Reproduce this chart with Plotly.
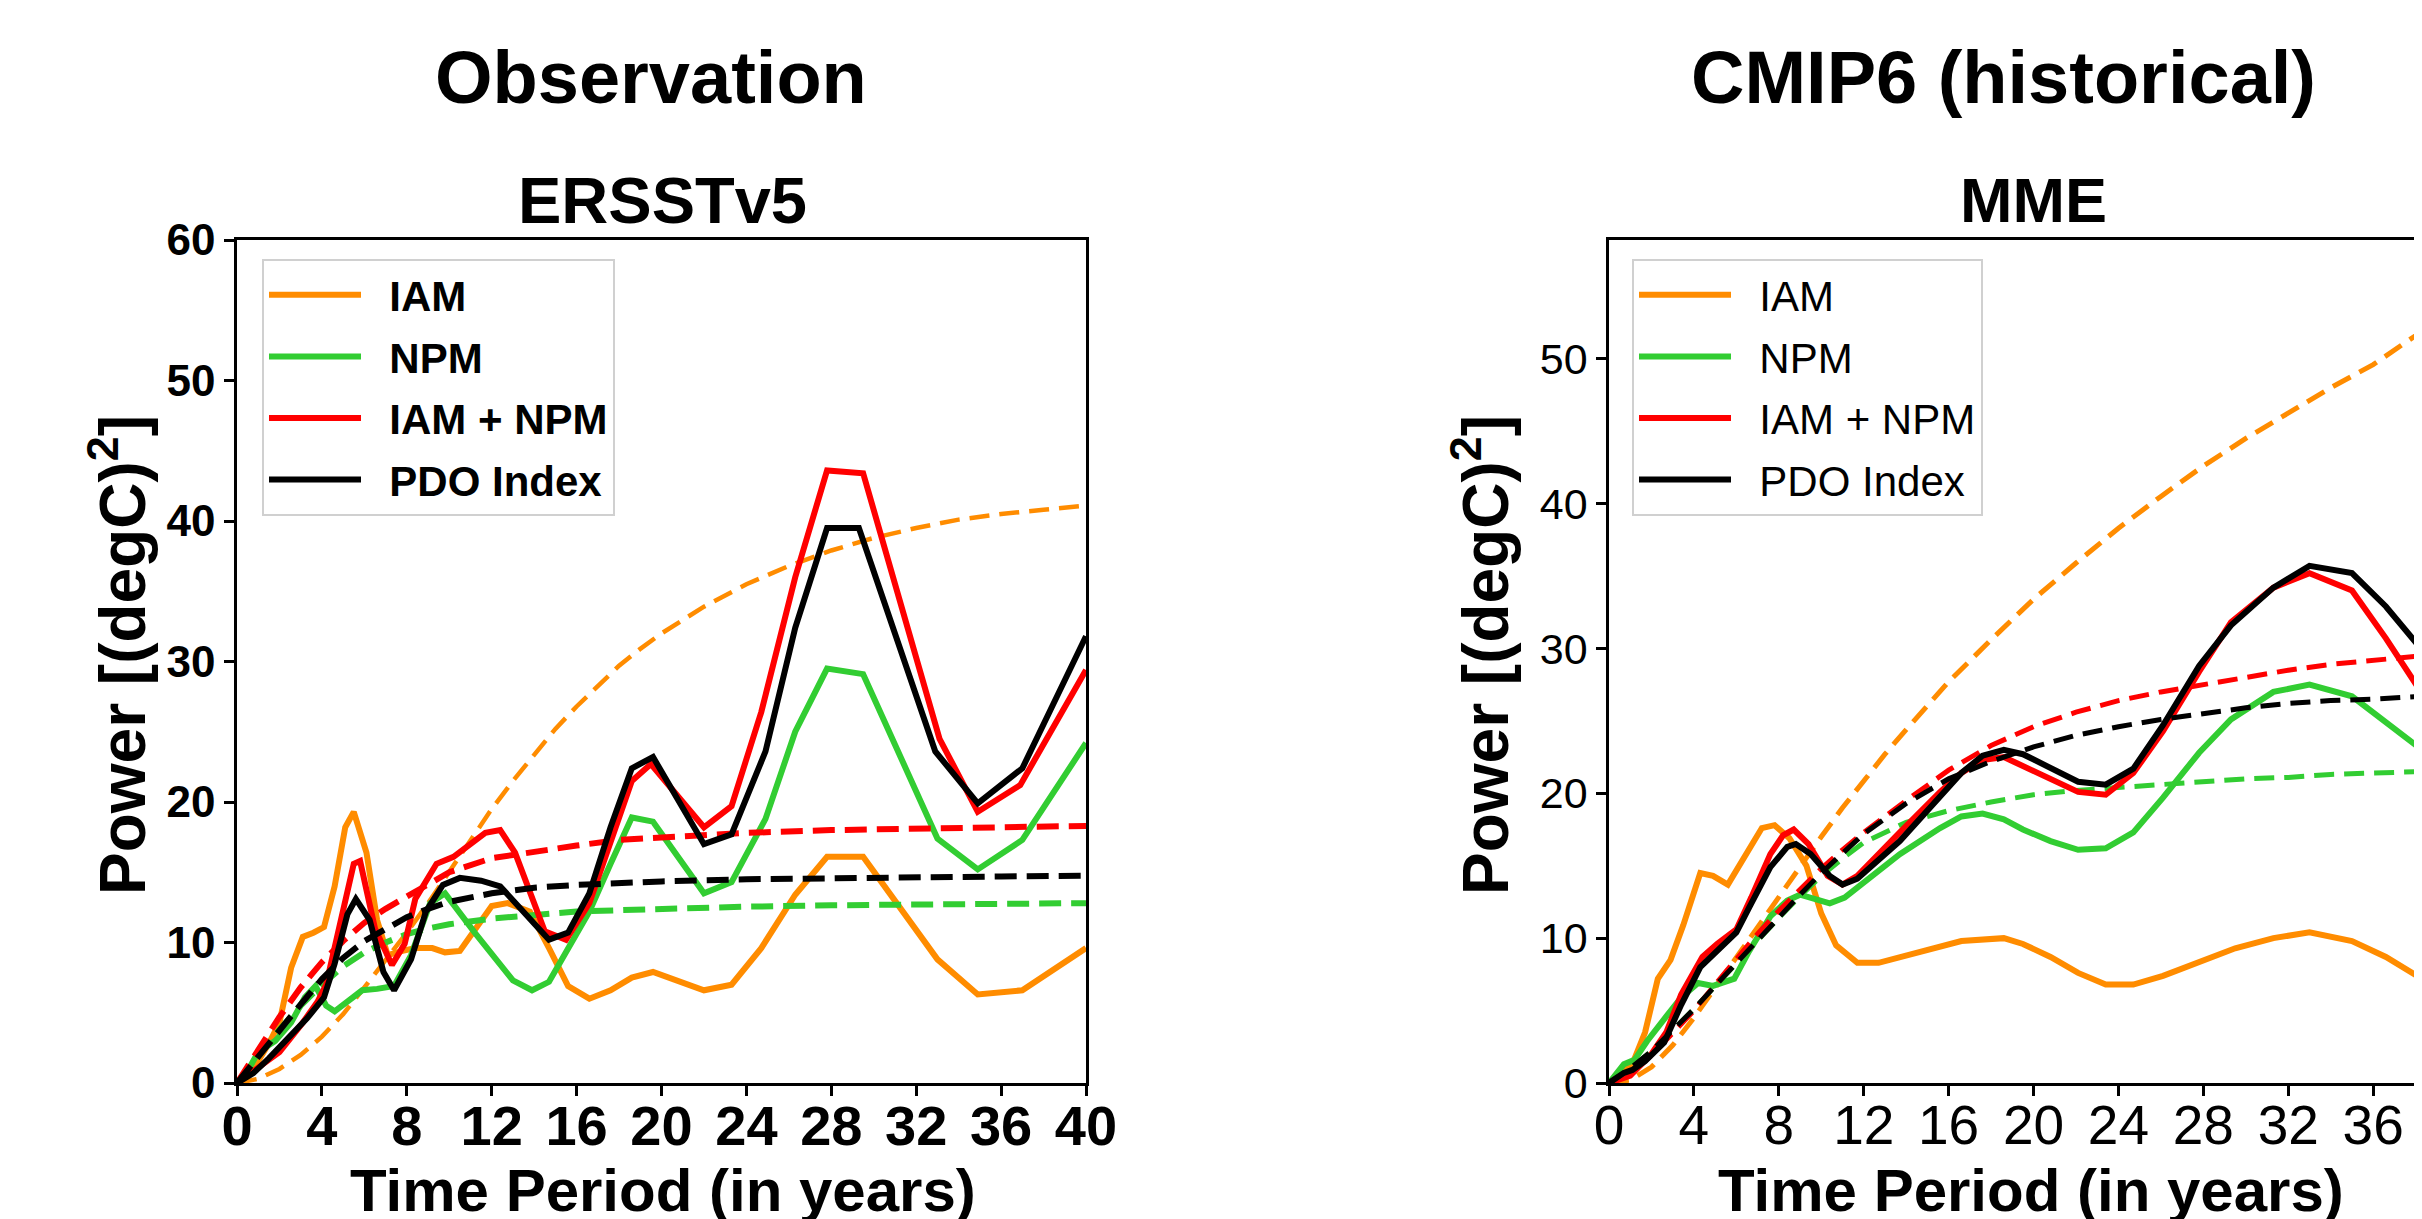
import plotly.graph_objects as go

# page body margin of the browser (8 px) is compensated in the layout helpers below
OFF = 8
W, H = 2422 - OFF, 1219 - OFF

# ---------------- Observation / ERSSTv5 (left panel) ----------------
obs_iam_x = [0, 0.77, 1.5, 2.0, 2.55, 3.1, 3.6, 4.1, 4.6, 5.1, 5.5, 6.1, 6.6, 7.1, 7.8, 8.4, 9.2, 9.8, 10.5, 11.2, 12.0, 12.75, 13.8, 14.7, 15.6, 16.6, 17.6, 18.6, 19.6, 22.0, 23.3, 24.7, 26.3, 27.8, 29.5, 33.0, 34.9, 37.0, 40]
obs_iam_y = [0, 1.0, 2.8, 4.3, 8.2, 10.4, 10.7, 11.1, 14.0, 18.2, 19.3, 16.4, 11.6, 9.1, 9.4, 9.6, 9.6, 9.3, 9.4, 10.9, 12.6, 12.8, 12.2, 9.6, 6.9, 6.0, 6.6, 7.5, 7.9, 6.6, 7.0, 9.6, 13.4, 16.1, 16.1, 8.8, 6.3, 6.6, 9.6]

obs_npm_x = [0, 0.5, 1.0, 1.8, 2.55, 3.2, 3.7, 4.2, 4.6, 5.2, 5.9, 6.6, 7.4, 8.2, 9.1, 9.8, 11.2, 13.0, 13.9, 14.7, 15.6, 16.6, 17.6, 18.6, 19.6, 22.0, 23.3, 24.9, 26.3, 27.8, 29.5, 33.0, 34.9, 37.0, 40]
obs_npm_y = [0, 0.85, 2.2, 3.0, 4.3, 6.1, 6.9, 5.5, 5.1, 5.8, 6.6, 6.7, 6.9, 9.1, 12.8, 13.5, 10.7, 7.3, 6.6, 7.2, 9.5, 12.2, 15.6, 18.9, 18.6, 13.5, 14.3, 18.8, 25.0, 29.5, 29.1, 17.4, 15.2, 17.3, 24.2]

obs_sum_x = [0, 1.3, 2.0, 3.1, 3.8, 4.2, 4.8, 5.5, 5.8, 6.5, 7.3, 7.9, 8.4, 9.4, 10.2, 11.7, 12.4, 13.1, 14.5, 15.5, 16.6, 18.6, 19.5, 22.0, 23.3, 24.7, 26.3, 27.8, 29.5, 33.1, 34.9, 36.9, 40]
obs_sum_y = [0, 1.4, 2.2, 4.3, 5.8, 7.0, 11.0, 15.6, 15.8, 11.0, 8.4, 9.9, 13.1, 15.6, 16.1, 17.8, 18.0, 16.4, 10.8, 10.2, 12.8, 21.5, 22.7, 18.2, 19.7, 26.4, 36.0, 43.6, 43.4, 24.5, 19.3, 21.2, 29.4]

obs_pdo_x = [0, 0.77, 1.5, 2.55, 3.3, 4.1, 4.6, 5.2, 5.6, 6.25, 6.9, 7.4, 8.2, 8.9, 9.7, 10.5, 11.5, 12.4, 13.8, 14.7, 15.6, 16.6, 17.6, 18.6, 19.6, 22.0, 23.3, 24.9, 26.3, 27.8, 29.3, 32.9, 34.9, 37.0, 40]
obs_pdo_y = [0, 0.7, 1.75, 3.4, 4.6, 6.1, 8.5, 12.0, 13.1, 11.6, 7.9, 6.6, 8.8, 12.2, 14.1, 14.6, 14.4, 14.0, 11.7, 10.2, 10.7, 13.5, 18.2, 22.4, 23.2, 17.0, 17.7, 23.6, 32.4, 39.5, 39.5, 23.6, 19.9, 22.4, 31.8]

obs_iam_fit_x = [0, 1, 2, 3, 4, 5, 6, 7, 8, 9, 10, 11, 12, 13, 14, 15, 16, 17, 18, 19, 20, 22, 24, 26, 28, 30, 32, 34, 36, 38, 40]
obs_iam_fit_y = [0, 0.3, 1.0, 2.0, 3.3, 4.9, 6.8, 8.7, 10.7, 12.8, 15.0, 17.2, 19.5, 21.5, 23.4, 25.2, 26.8, 28.3, 29.7, 30.9, 32.0, 33.9, 35.5, 36.8, 37.9, 38.8, 39.5, 40.1, 40.5, 40.8, 41.1]

obs_fit_x = [0, 1, 2, 3, 4, 5, 6, 7, 8, 9, 10, 12, 14, 16, 18, 20, 24, 28, 32, 36, 40]
obs_npm_fit_y = [0, 1.9, 3.8, 5.5, 7.0, 8.3, 9.3, 10.0, 10.6, 11.0, 11.3, 11.7, 12.0, 12.2, 12.3, 12.4, 12.55, 12.65, 12.7, 12.75, 12.8]
obs_sum_fit_y = [0, 2.4, 4.7, 6.8, 8.6, 10.1, 11.4, 12.4, 13.3, 14.1, 15.0, 16.0, 16.5, 16.9, 17.3, 17.5, 17.8, 18.0, 18.1, 18.2, 18.3]
obs_pdo_fit_y = [0, 1.9, 3.8, 5.6, 7.4, 8.9, 10.1, 11.0, 11.8, 12.4, 12.9, 13.5, 13.9, 14.1, 14.25, 14.35, 14.5, 14.6, 14.65, 14.7, 14.75]

# ---------------- CMIP6 (historical) / MME (right panel) ----------------
mme_iam_x = [0, 1.1, 1.7, 2.3, 2.9, 3.5, 4.3, 4.9, 5.6, 6.5, 7.2, 7.8, 8.5, 9.3, 10.0, 10.7, 11.7, 12.7, 14.7, 16.6, 18.6, 19.5, 20.8, 22.1, 23.4, 24.7, 26.1, 27.8, 29.5, 31.3, 33.0, 35.0, 36.6, 38.3]
mme_iam_y = [0, 1.3, 3.5, 7.2, 8.5, 10.9, 14.5, 14.3, 13.7, 15.8, 17.6, 17.8, 16.9, 15.0, 11.7, 9.5, 8.3, 8.3, 9.1, 9.8, 10.0, 9.6, 8.7, 7.6, 6.8, 6.8, 7.4, 8.3, 9.3, 10.0, 10.4, 9.8, 8.7, 7.2]

mme_npm_x = [0, 0.7, 1.2, 1.8, 2.7, 3.4, 4.2, 4.9, 5.9, 6.6, 7.6, 8.4, 9.0, 9.8, 10.4, 11.1, 12.2, 13.7, 15.6, 16.6, 17.6, 18.6, 19.5, 20.8, 22.1, 23.4, 24.7, 26.1, 27.8, 29.3, 31.3, 33.0, 35.0, 36.6, 38.3]
mme_npm_y = [0, 1.3, 1.6, 2.9, 4.6, 5.9, 6.9, 6.7, 7.2, 9.1, 11.5, 12.6, 13.0, 12.6, 12.4, 12.8, 14.1, 15.8, 17.6, 18.4, 18.6, 18.2, 17.5, 16.7, 16.1, 16.2, 17.3, 19.7, 22.8, 25.1, 27.0, 27.5, 26.7, 24.9, 23.0]

mme_sum_x = [0, 1.0, 2.0, 2.7, 3.4, 4.4, 5.1, 6.0, 6.7, 7.6, 8.2, 8.7, 9.4, 10.3, 11.0, 11.7, 13.7, 15.6, 16.6, 17.6, 18.6, 19.5, 20.8, 22.1, 23.4, 24.7, 26.1, 27.8, 29.3, 31.3, 33.0, 35.0, 36.6, 38.3]
mme_sum_y = [0, 0.5, 2.0, 3.5, 6.1, 8.7, 9.6, 10.6, 12.8, 15.8, 17.1, 17.5, 16.5, 14.3, 13.7, 14.3, 17.3, 20.1, 21.4, 22.3, 22.5, 21.9, 21.0, 20.1, 19.9, 21.4, 24.3, 28.4, 31.8, 34.2, 35.2, 34.0, 30.7, 26.9]

mme_pdo_x = [0, 0.7, 1.1, 1.7, 2.6, 3.4, 4.3, 5.1, 6.0, 6.6, 7.6, 8.4, 8.8, 9.5, 10.4, 11.0, 11.7, 13.7, 15.6, 16.6, 17.6, 18.6, 19.5, 20.8, 22.1, 23.4, 24.7, 26.1, 27.8, 29.3, 31.3, 33.0, 35.0, 36.6, 38.3]
mme_pdo_y = [0, 0.7, 0.9, 1.5, 2.8, 5.4, 8.0, 9.1, 10.4, 12.1, 14.9, 16.3, 16.5, 15.8, 14.3, 13.7, 14.1, 16.7, 19.7, 21.4, 22.6, 23.0, 22.7, 21.7, 20.8, 20.6, 21.7, 24.7, 28.8, 31.6, 34.2, 35.7, 35.2, 32.9, 29.9]

mme_iam_fit_x = [0, 1, 2, 3, 4, 5, 6, 7, 8, 9, 10, 11, 12, 13, 14, 16, 18, 20, 22, 24, 26, 28, 30, 32, 34, 36, 38.3]
mme_iam_fit_y = [0, 0.2, 1.1, 2.6, 4.5, 6.6, 8.7, 10.8, 12.9, 15.0, 17.0, 19.0, 20.9, 22.7, 24.4, 27.7, 30.6, 33.4, 35.9, 38.3, 40.5, 42.6, 44.5, 46.3, 48.0, 49.6, 51.9]

mme_fit_x = [0, 1, 2, 3, 4, 5, 6, 7, 8, 9, 10, 11, 12, 14, 16, 18, 20, 22, 24, 26, 28, 30, 32, 34, 36, 38.3]
mme_npm_fit_y = [0, 1.0, 2.2, 3.6, 5.1, 6.7, 8.3, 9.9, 11.4, 12.9, 14.3, 15.5, 16.6, 18.0, 18.8, 19.4, 19.9, 20.2, 20.4, 20.6, 20.8, 21.0, 21.1, 21.3, 21.4, 21.5]
mme_sum_fit_y = [0, 0.8, 1.9, 3.4, 5.0, 6.8, 8.6, 10.3, 11.9, 13.4, 14.8, 16.1, 17.3, 19.5, 21.6, 23.3, 24.6, 25.6, 26.4, 27.0, 27.5, 28.0, 28.5, 28.9, 29.2, 29.5]
mme_pdo_fit_y = [0, 1.0, 2.2, 3.6, 5.1, 6.7, 8.3, 9.9, 11.5, 13.0, 14.5, 15.9, 17.2, 19.3, 21.0, 22.2, 23.2, 24.0, 24.6, 25.1, 25.5, 25.9, 26.2, 26.4, 26.5, 26.7]

series_names = ["IAM", "NPM", "IAM + NPM", "PDO Index"]
series_colors = ["#FF8C00", "#32CD32", "#FF0000", "#000000"]

x_ticks_left = [0, 4, 8, 12, 16, 20, 24, 28, 32, 36, 40]
x_ticks_right = [0, 4, 8, 12, 16, 20, 24, 28, 32, 36]
y_ticks_left = [0, 10, 20, 30, 40, 50, 60]
y_ticks_right = [0, 10, 20, 30, 40, 50]

FONT = "Liberation Sans"
GAP = "\u00a0\u00a0"  # spacing between legend line sample and label


def px_x(p):
    return (p - OFF) / W


def px_y(p):
    return 1 - (p - OFF) / H


fig = go.Figure()

left_solid = [(obs_iam_x, obs_iam_y), (obs_npm_x, obs_npm_y), (obs_sum_x, obs_sum_y), (obs_pdo_x, obs_pdo_y)]
left_fit = [(obs_iam_fit_x, obs_iam_fit_y), (obs_fit_x, obs_npm_fit_y), (obs_fit_x, obs_sum_fit_y), (obs_fit_x, obs_pdo_fit_y)]
right_solid = [(mme_iam_x, mme_iam_y), (mme_npm_x, mme_npm_y), (mme_sum_x, mme_sum_y), (mme_pdo_x, mme_pdo_y)]
right_fit = [(mme_iam_fit_x, mme_iam_fit_y), (mme_fit_x, mme_npm_fit_y), (mme_fit_x, mme_sum_fit_y), (mme_fit_x, mme_pdo_fit_y)]

for i, name in enumerate(series_names):
    c = series_colors[i]
    sx, sy = left_solid[i]
    fig.add_trace(go.Scatter(x=sx, y=sy, mode="lines", name=GAP + name, line=dict(color=c, width=6),
                             xaxis="x", yaxis="y", legend="legend", legendgroup="L" + name))
    fx, fy = left_fit[i]
    fig.add_trace(go.Scatter(x=fx, y=fy, mode="lines", name=name + " fit", showlegend=False,
                             line=dict(color=c, width=4.5 if i == 0 else 6,
                                       dash="20px,10px" if i == 0 else "22px,10px"),
                             xaxis="x", yaxis="y"))
for i, name in enumerate(series_names):
    c = series_colors[i]
    sx, sy = right_solid[i]
    fig.add_trace(go.Scatter(x=sx, y=sy, mode="lines", name=GAP + name, line=dict(color=c, width=6),
                             xaxis="x2", yaxis="y2", legend="legend2", legendgroup="R" + name))
    fx, fy = right_fit[i]
    fig.add_trace(go.Scatter(x=fx, y=fy, mode="lines", name=name + " fit", showlegend=False,
                             line=dict(color=c, width=5, dash="20px,10px"),
                             xaxis="x2", yaxis="y2"))

ydom = [px_y(1083), px_y(240)]
axis_common = dict(showline=True, linecolor="black", linewidth=2.5, ticks="outside", ticklen=10,
                   tickwidth=2.5, tickcolor="black", showgrid=False, zeroline=False, automargin=False)

fig.update_layout(
    width=W, height=H,
    margin=dict(l=0, r=0, t=0, b=0, autoexpand=False),
    paper_bgcolor="white", plot_bgcolor="white",
    showlegend=True,
    xaxis=dict(domain=[px_x(237), px_x(1086)], range=[0, 40], tickvals=x_ticks_left, mirror=True,
               ticklabelstandoff=-18,
               tickfont=dict(family=FONT, size=56, weight="bold", color="black"), anchor="y", **axis_common),
    yaxis=dict(domain=ydom, range=[0, 60], tickvals=y_ticks_left, mirror=True,
               tickfont=dict(family=FONT, size=44, weight="bold", color="black"), anchor="x", **axis_common),
    xaxis2=dict(domain=[px_x(1609), 1.0], range=[0, 38.3], tickvals=x_ticks_right, mirror=True,
                ticklabelstandoff=-18,
                tickfont=dict(family=FONT, size=55, color="black"), anchor="y2", **axis_common),
    yaxis2=dict(domain=ydom, range=[0, 58.2], tickvals=y_ticks_right, mirror=False,
                tickfont=dict(family=FONT, size=43, color="black"), anchor="x2", **axis_common),
    legend=dict(x=px_x(262), y=px_y(259), xanchor="left", yanchor="top", bgcolor="white",
                bordercolor="#d0d0d0", borderwidth=2, itemwidth=92, tracegroupgap=4,
                font=dict(family=FONT, size=42, weight="bold", color="black")),
    legend2=dict(x=px_x(1632), y=px_y(259), xanchor="left", yanchor="top", bgcolor="white",
                 bordercolor="#d0d0d0", borderwidth=2, itemwidth=92, tracegroupgap=4,
                 font=dict(family=FONT, size=42, color="black")),
)

ann = []
def add_text(text, x, y, size, angle=0):
    ann.append(dict(text=text, x=px_x(x), y=px_y(y), xref="paper", yref="paper", showarrow=False,
                    xanchor="center", yanchor="middle", textangle=angle,
                    font=dict(family=FONT, size=size, color="black", weight="bold")))

add_text("Observation", 651, 78, 74)
add_text("CMIP6 (historical)", 2003, 78, 74)
add_text("ERSSTv5", 662, 200, 65)
add_text("MME", 2033, 200, 63)
add_text("Time Period (in years)", 663, 1190, 60)
add_text("Time Period (in years)", 2031, 1190, 60)
add_text("Power [(degC)<sup>2</sup>]", 118, 655, 64, -90)
add_text("Power [(degC)<sup>2</sup>]", 1481, 655, 64, -90)
fig.update_layout(annotations=ann)

fig.write_html("out.html")
